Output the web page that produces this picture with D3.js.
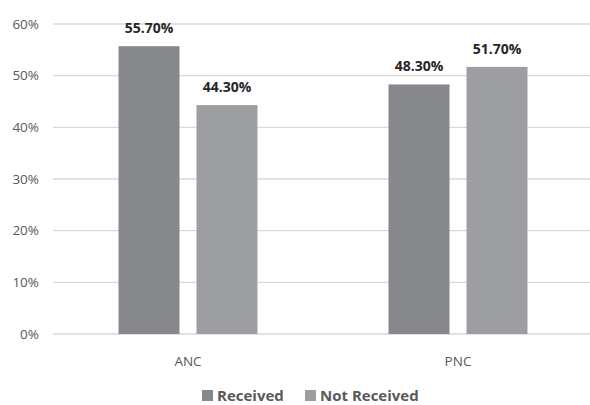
<!DOCTYPE html>
<html>
<head>
<meta charset="utf-8">
<script src="https://cdn.jsdelivr.net/npm/d3@7"></script>
<style>
  body { margin: 0; background: #fff; }
  svg { display: block; font-family: "Open Sans", "Noto Sans", sans-serif; }
</style>
</head>
<body>
<div id="chart"></div>
<script>
const categories = ["ANC", "PNC"]
const series = ["Received", "Not Received"]
const received = [55.7, 48.3]
const notReceived = [44.3, 51.7]
const yTicks = [0, 10, 20, 30, 40, 50, 60]
const colors = ["#87888c", "#9d9ea2"]

const W = 590, H = 405
const mLeft = 53, mRight = 590, mTop = 24, mBottom = 334

const svg = d3.select("#chart").append("svg")
  .attr("width", W).attr("height", H)

const y = d3.scaleLinear().domain([0, 60]).range([mBottom, mTop])
const x0 = d3.scaleBand().domain(categories).range([mLeft, mLeft + 540])
const x1 = d3.scaleBand().domain(series).range([0, x0.bandwidth()])
  .paddingInner(0.218).paddingOuter(0.84)

// gridlines
svg.append("g").selectAll("line")
  .data(yTicks)
  .enter().append("line")
    .attr("x1", mLeft).attr("x2", mRight)
    .attr("y1", d => y(d)).attr("y2", d => y(d))
    .style("stroke", "#d9d9d9")
    .style("stroke-width", 1.3)

// y tick labels
svg.append("g").selectAll("text")
  .data(yTicks)
  .enter().append("text")
    .attr("x", 39).attr("y", d => y(d))
    .attr("dy", "0.35em")
    .attr("text-anchor", "end")
    .style("font-size", "13.5px")
    .style("fill", "#595959")
    .text(d => d + "%")

const rows = categories.map((c, i) => ({ cat: c, values: [received[i], notReceived[i]] }))

const groups = svg.append("g").selectAll("g")
  .data(rows)
  .enter().append("g")
    .attr("transform", d => `translate(${x0(d.cat)},0)`)

groups.selectAll("rect")
  .data(d => d.values.map((v, j) => ({ key: series[j], v: v, j: j })))
  .enter().append("rect")
    .attr("x", d => x1(d.key))
    .attr("width", x1.bandwidth())
    .attr("y", d => y(d.v))
    .attr("height", d => mBottom - y(d.v))
    .style("fill", d => colors[d.j])

groups.selectAll("text")
  .data(d => d.values.map((v, j) => ({ key: series[j], v: v })))
  .enter().append("text")
    .attr("x", d => x1(d.key) + x1.bandwidth() / 2)
    .attr("y", d => y(d.v) - 13)
    .attr("text-anchor", "middle")
    .style("font-size", "14px")
    .style("font-weight", "bold")
    .style("fill", "#262626")
    .text(d => d.v.toFixed(2) + "%")

// category labels
svg.append("g").selectAll("text")
  .data(categories)
  .enter().append("text")
    .attr("x", d => x0(d) + x0.bandwidth() / 2)
    .attr("y", 366)
    .attr("text-anchor", "middle")
    .style("font-size", "13.5px")
    .style("fill", "#595959")
    .text(d => d)

// legend
const legendX = [202, 305]
const legend = svg.append("g").selectAll("g")
  .data(series)
  .enter().append("g")
    .attr("transform", (d, i) => `translate(${legendX[i]},390)`)
legend.append("rect")
  .attr("width", 11).attr("height", 11)
  .style("fill", (d, i) => colors[i])
legend.append("text")
  .attr("x", 15).attr("y", 11)
  .style("font-size", "15px")
  .style("font-weight", "bold")
  .style("fill", "#595959")
  .text(d => d)
</script>
</body>
</html>
